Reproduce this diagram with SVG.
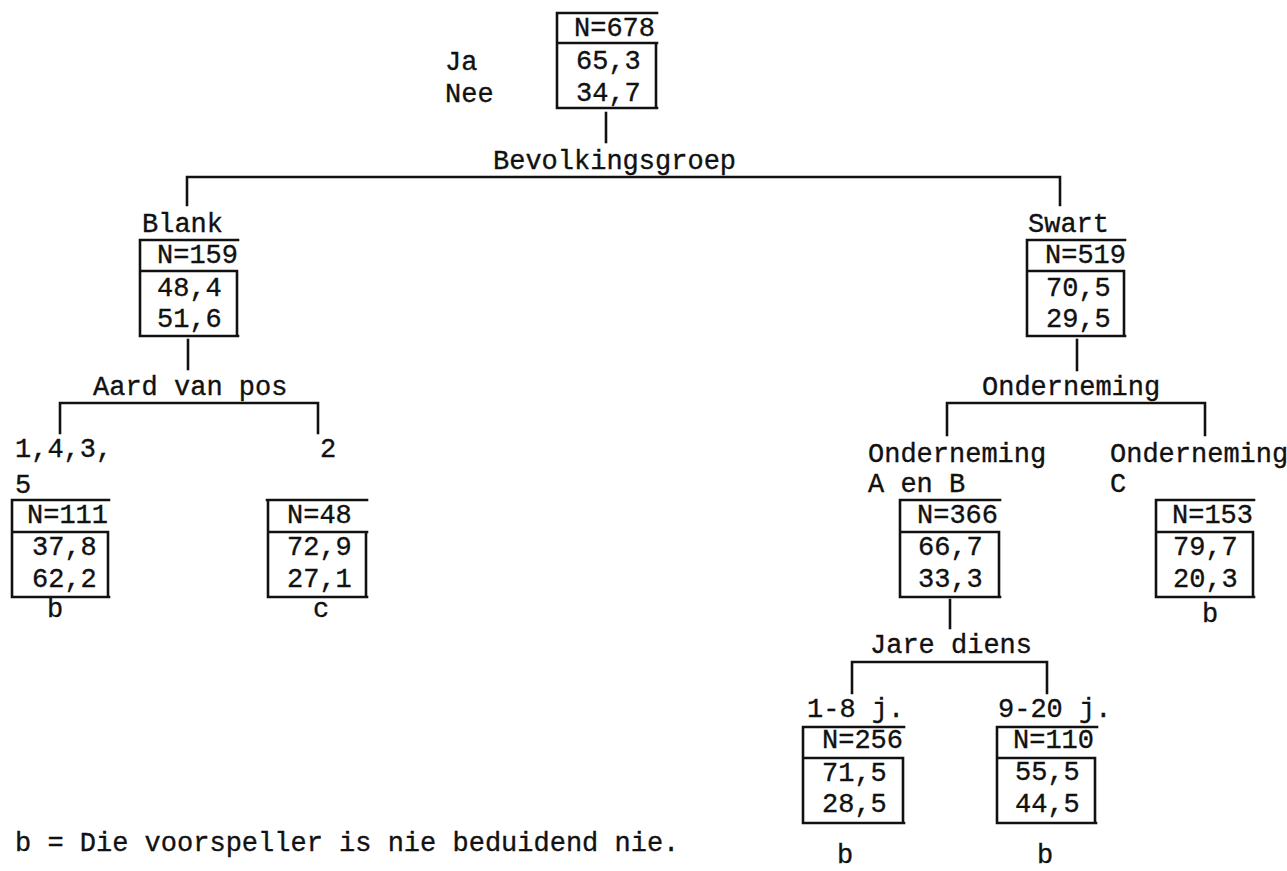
<svg xmlns="http://www.w3.org/2000/svg" width="1287" height="871" viewBox="0 0 1287 871">
<style>
text{font-family:"Liberation Mono","DejaVu Sans Mono",monospace;font-size:27px;fill:#111;stroke:#111;stroke-width:0.35px}
.ln{fill:none;stroke:#111;stroke-width:2.6;stroke-linecap:square}
</style>
<rect width="1287" height="871" fill="#fff"/>
<g id="connectors" class="ln">
<path d="M606 113V142"/>
<path d="M187 177H1060M187 177V205M1060 177V205"/>
<path d="M188 340V369"/>
<path d="M60 403H318M60 403V433M318 403V433"/>
<path d="M1077 340V370"/>
<path d="M947 403H1205M947 403V435M1205 403V435"/>
<path d="M950 600V628"/>
<path d="M852 662H1047M852 662V693M1047 662V693"/>
</g>
<g id="split-labels">
<text x="493" y="169">Bevolkingsgroep</text>
<text x="93" y="395">Aard van pos</text>
<text x="982" y="395">Onderneming</text>
<text x="870" y="653">Jare diens</text>
</g>
<g id="root">
<path class="ln" d="M557 13H657M557 13V108M557 43H657M656 43V108M557 108H657"/>
<text x="574" y="36">N=678</text>
<text x="576" y="69">65,3</text>
<text x="576" y="101">34,7</text>
<text x="445" y="70">Ja</text>
<text x="445" y="102">Nee</text>
</g>
<g id="blank">
<text x="142" y="232">Blank</text>
<path class="ln" d="M140 240H238M140 240V336M140 271H237M237 271V336M140 336H238"/>
<text x="157" y="263">N=159</text>
<text x="157" y="296">48,4</text>
<text x="157" y="327">51,6</text>
</g>
<g id="swart">
<text x="1028" y="232">Swart</text>
<path class="ln" d="M1027 240H1125M1027 240V336M1027 271H1124M1124 271V336M1027 336H1125"/>
<text x="1045" y="263">N=519</text>
<text x="1046" y="296">70,5</text>
<text x="1046" y="327">29,5</text>
</g>
<g id="pos-1435">
<text x="15" y="457">1,4,3,</text>
<text x="15" y="493">5</text>
<path class="ln" d="M12 500H109M12 500V597M12 532H108M108 532V597M12 597H109"/>
<text x="27" y="523">N=111</text>
<text x="32" y="555">37,8</text>
<text x="32" y="587">62,2</text>
<text x="47" y="617">b</text>
</g>
<g id="pos-2">
<text x="320" y="457">2</text>
<path class="ln" d="M267 500H367M268 500V597M268 532H367M366 532V597M268 597H367"/>
<text x="287" y="523">N=48</text>
<text x="287" y="555">72,9</text>
<text x="287" y="587">27,1</text>
<text x="313" y="617">c</text>
</g>
<g id="onderneming-ab">
<text x="868" y="462">Onderneming</text>
<text x="868" y="492">A en B</text>
<path class="ln" d="M900 500H1000M900 500V597M900 532H999M999 532V597M900 597H1000"/>
<text x="917" y="523">N=366</text>
<text x="918" y="555">66,7</text>
<text x="918" y="587">33,3</text>
</g>
<g id="onderneming-c">
<text x="1110" y="462">Onderneming</text>
<text x="1110" y="492">C</text>
<path class="ln" d="M1156 500H1254M1156 500V597M1156 532H1253M1253 532V597M1156 597H1254"/>
<text x="1172" y="523">N=153</text>
<text x="1173" y="555">79,7</text>
<text x="1173" y="587">20,3</text>
<text x="1202" y="622">b</text>
</g>
<g id="jare-1-8">
<text x="807" y="717">1-8 j.</text>
<path class="ln" d="M803 727H904M803 727V823M803 758H903M903 758V823M803 823H904"/>
<text x="822" y="748">N=256</text>
<text x="822" y="781">71,5</text>
<text x="822" y="812">28,5</text>
<text x="837" y="863">b</text>
</g>
<g id="jare-9-20">
<text x="998" y="717">9-20 j.</text>
<path class="ln" d="M997 727H1097M997 727V823M997 758H1095M1095 758V823M997 823H1096"/>
<text x="1013" y="748">N=110</text>
<text x="1015" y="780">55,5</text>
<text x="1015" y="812">44,5</text>
<text x="1037" y="863">b</text>
</g>
<g id="legend">
<text x="15" y="851">b = Die voorspeller is nie beduidend nie.</text>
</g>
</svg>
